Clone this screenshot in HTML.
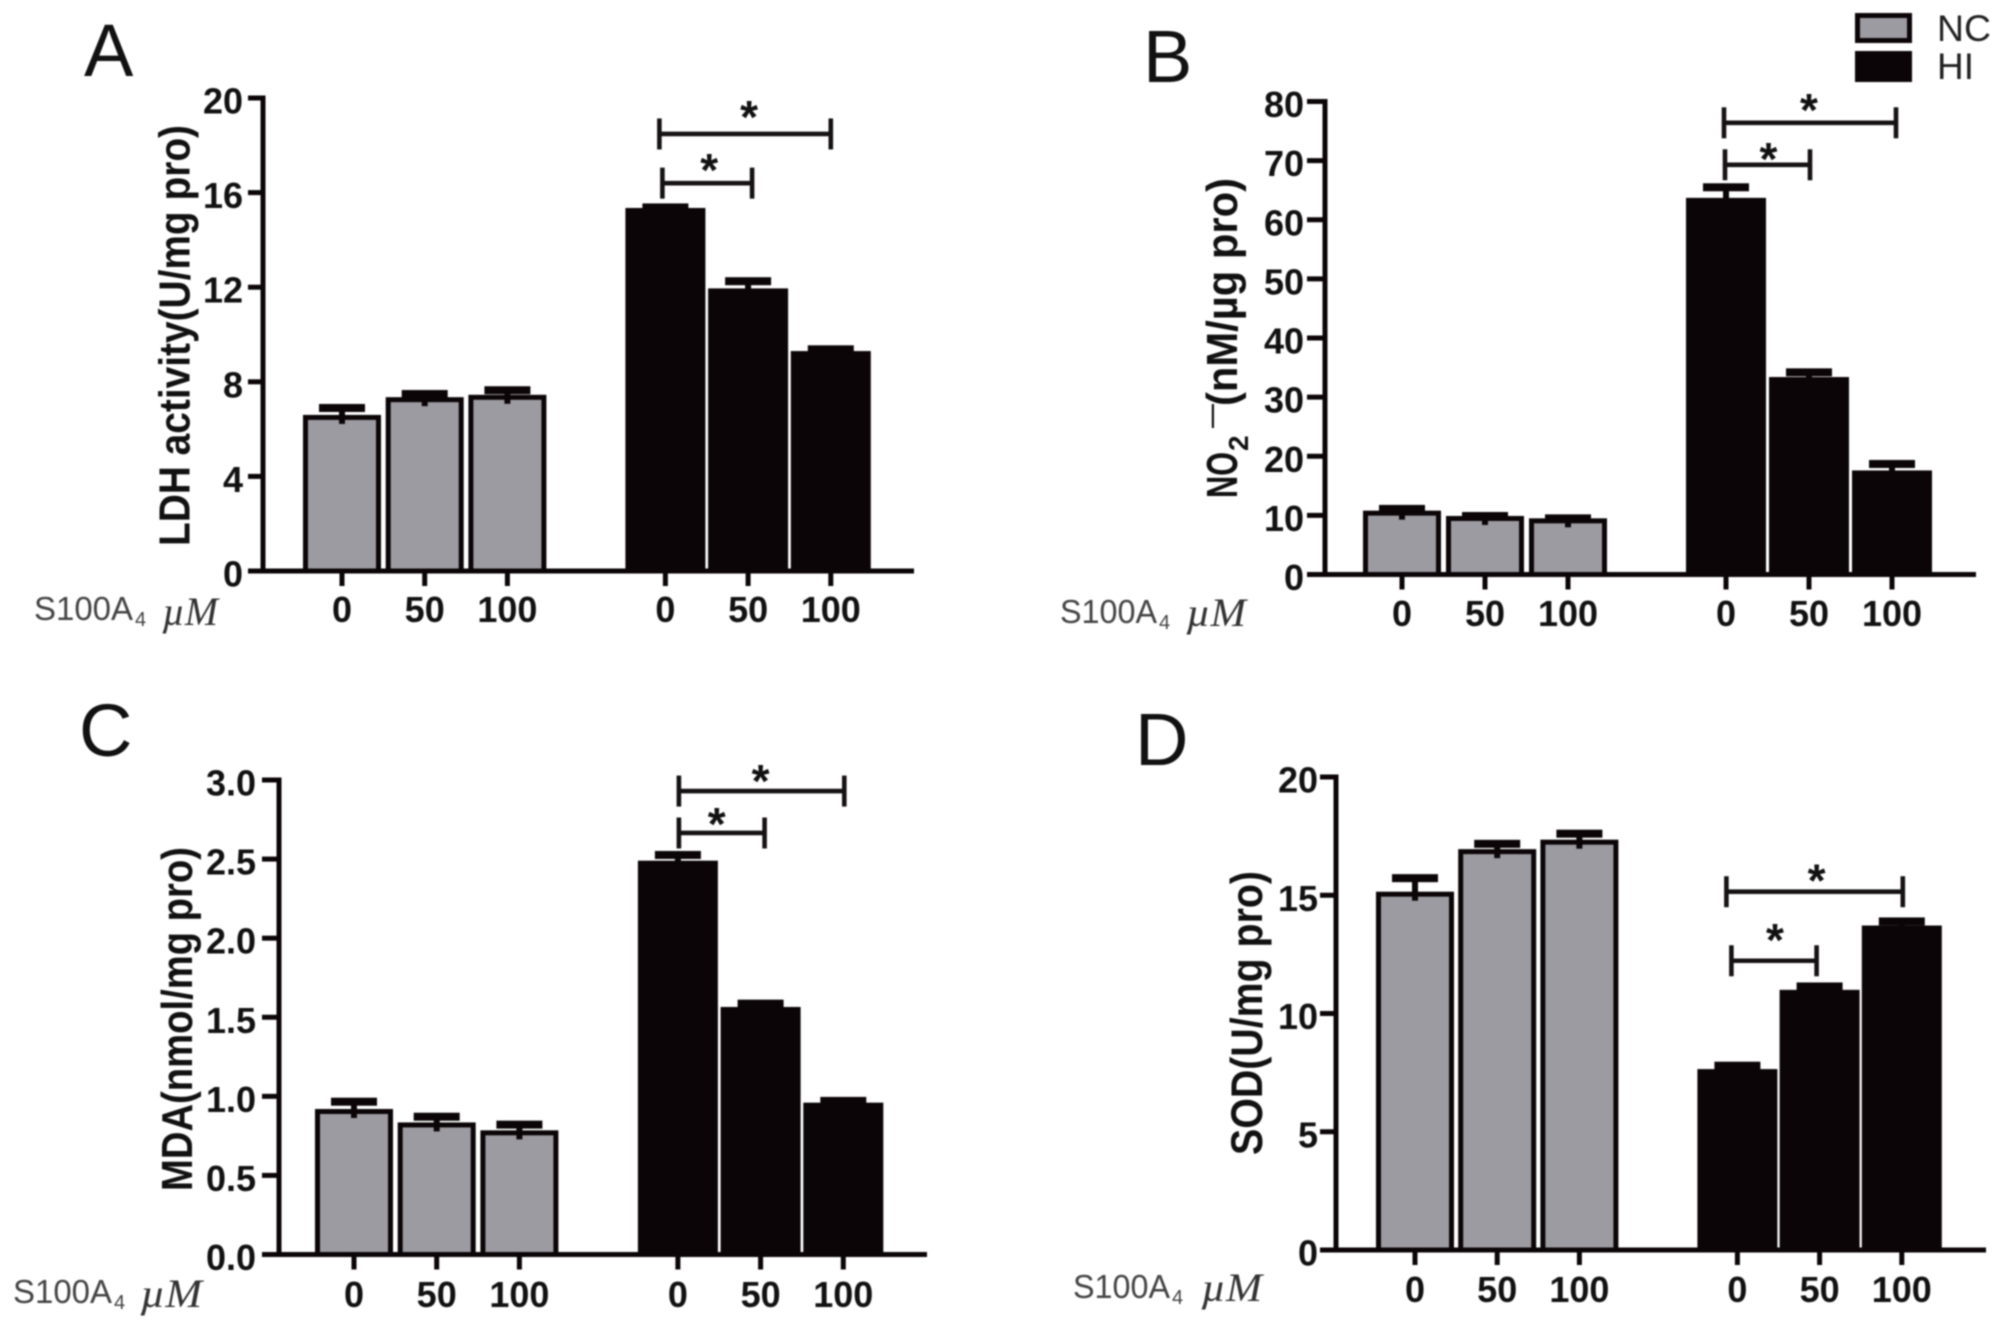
<!DOCTYPE html>
<html lang="en">
<head>
<meta charset="utf-8">
<title>S100A4 effects on LDH, NO2, MDA and SOD</title>
<style>
html,body{margin:0;padding:0;background:#fff;}
body{width:2008px;height:1329px;overflow:hidden;}
svg{display:block;filter:blur(0.7px);}
.tl{font-family:"Liberation Sans",sans-serif;font-weight:700;font-size:36px;fill:#111;}
.yt{font-family:"Liberation Sans",sans-serif;font-weight:700;font-size:39px;fill:#111;}
.pl{font-family:"Liberation Sans",sans-serif;font-size:74px;fill:#111;}
.dose{font-family:"Liberation Sans",sans-serif;font-size:33px;fill:#444;}
.sub{font-family:"Liberation Sans",sans-serif;font-size:20px;fill:#444;}
.um{font-family:"Liberation Serif",serif;font-style:italic;font-size:40px;fill:#333;}
.lg{font-family:"Liberation Sans",sans-serif;font-size:37px;fill:#222;}
.star{font-family:"Liberation Sans",sans-serif;font-weight:700;font-size:46px;fill:#111;}
</style>
</head>
<body>
<svg id="fig" xmlns="http://www.w3.org/2000/svg" width="2008" height="1329" viewBox="0 0 2008 1329">
  <rect x="0" y="0" width="2008" height="1329" fill="#fff"/>

  <text class="pl" x="84" y="76">A</text>
  <text class="pl" x="1143" y="82">B</text>
  <text class="pl" x="79" y="756">C</text>
  <text class="pl" x="1135" y="765">D</text>

  <text class="yt" transform="translate(189.5,546) rotate(-90) scale(1,1.12)" textLength="421" lengthAdjust="spacingAndGlyphs">LDH activity(U/mg pro)</text>
  <g>
    <text class="yt" transform="translate(1237,498) rotate(-90) scale(1,1.12)" textLength="46" lengthAdjust="spacingAndGlyphs">NO</text>
    <text class="sub" style="font-size:28px;fill:#111;font-weight:700" transform="translate(1248,451) rotate(-90)">2</text>
    <text class="yt" style="font-size:22px" transform="translate(1219,428) rotate(-90)" textLength="24" lengthAdjust="spacingAndGlyphs">—</text>
    <text class="yt" transform="translate(1237,406) rotate(-90) scale(1,1.12)" textLength="228" lengthAdjust="spacingAndGlyphs">(nM/µg pro)</text>
  </g>
  <text class="yt" transform="translate(192,1191) rotate(-90) scale(1,1.12)" textLength="344" lengthAdjust="spacingAndGlyphs">MDA(nmol/mg pro)</text>
  <text class="yt" transform="translate(1262,1155) rotate(-90) scale(1,1.15)" textLength="284" lengthAdjust="spacingAndGlyphs">SOD(U/mg pro)</text>

  <g>
    <text class="dose" x="34" y="620" textLength="99" lengthAdjust="spacingAndGlyphs">S100A</text>
    <text class="sub" x="135" y="626">4</text>
    <text class="um" x="162" y="625" textLength="56" lengthAdjust="spacingAndGlyphs">µM</text>
  </g>
  <g>
    <text class="dose" x="1060" y="623" textLength="97" lengthAdjust="spacingAndGlyphs">S100A</text>
    <text class="sub" x="1159" y="629">4</text>
    <text class="um" x="1186" y="626" textLength="60" lengthAdjust="spacingAndGlyphs">µM</text>
  </g>
  <g>
    <text class="dose" x="13" y="1303" textLength="99" lengthAdjust="spacingAndGlyphs">S100A</text>
    <text class="sub" x="114" y="1309">4</text>
    <text class="um" x="140" y="1307" textLength="62" lengthAdjust="spacingAndGlyphs">µM</text>
  </g>
  <g>
    <text class="dose" x="1073" y="1298" textLength="97" lengthAdjust="spacingAndGlyphs">S100A</text>
    <text class="sub" x="1172" y="1304">4</text>
    <text class="um" x="1201" y="1301" textLength="61" lengthAdjust="spacingAndGlyphs">µM</text>
  </g>

  <g>
    <rect x="1857.5" y="15.5" width="52" height="25" fill="#9c9ba1" stroke="#0b0507" stroke-width="5"/>
    <text class="lg" x="1937" y="41" textLength="54" lengthAdjust="spacingAndGlyphs">NC</text>
    <rect x="1855" y="51" width="57" height="31" fill="#0b0507"/>
    <text class="lg" x="1937" y="79">HI</text>
  </g>
</svg>

<script>
var categories = ['0', '50', '100', '0', '50', '100'];

var aTicks = ['0', '4', '8', '12', '16', '20'];
var aMeans = [6.6, 7.35, 7.45, 15.35, 11.95, 9.3];
var aErrors = [0.42, 0.26, 0.32, 0.15, 0.43, 0.2];
var aBracketLevels = [18.48, 16.4];

var bTicks = ['0', '10', '20', '30', '40', '50', '60', '70', '80'];
var bMeans = [10.8, 9.9, 9.5, 63.7, 33.4, 17.6];
var bErrors = [0.8, 0.5, 0.5, 2.3, 1.3, 1.6];
var bBracketLevels = [76.4, 69.3];

var cTicks = ['0.0', '0.5', '1.0', '1.5', '2.0', '2.5', '3.0'];
var cMeans = [0.92, 0.835, 0.785, 2.49, 1.565, 0.96];
var cErrors = [0.065, 0.055, 0.055, 0.055, 0.04, 0.03];
var cBracketLevels = [2.93, 2.665];

var dTicks = ['0', '5', '10', '15', '20'];
var dMeans = [15.15, 16.95, 17.35, 7.65, 11, 13.72];
var dErrors = [0.7, 0.35, 0.38, 0.27, 0.27, 0.3];
var dBracketLevels = [15.15, 12.23];

var NS = 'http://www.w3.org/2000/svg';
var DARK = '#0b0507';
var GRAY = '#9c9ba1';
var root = document.getElementById('fig');

function mk(tag, parent, attrs) {
  var el = document.createElementNS(NS, tag);
  for (var k in attrs) { el.setAttribute(k, attrs[k]); }
  parent.appendChild(el);
  return el;
}

function drawPanel(p, means, errors, ticks, levels) {
  var g = mk('g', root, {});
  
  

  var maxV = Number(ticks[ticks.length - 1]);
  function y(v) { return p.y0 + (p.yTop - p.y0) * v / maxV; }
  function x(i) { return p.x0 + i * p.step + (i >= 3 ? p.gap - p.step : 0); }

  means.forEach(function (m, i) {
    var black = i >= 3;
    var top = y(m);
    var bar;
    if (black) {
      bar = mk('rect', g, { x: x(i) - 40, y: top, width: 80, height: p.y0 - top, fill: DARK });
    } else {
      bar = mk('rect', g, { x: x(i) - 36.5, y: top + 2.5, width: 73, height: p.y0 - top - 2.5, fill: GRAY, stroke: DARK, 'stroke-width': 5 });
    }
    
    

    var errG = mk('g', g, {});
    
    
    var hi = y(m + errors[i]);
    mk('rect', errG, { x: x(i) - 23, y: hi - 1, width: 46, height: 8, fill: DARK });
    mk('rect', errG, { x: x(i) - 3, y: hi, width: 6, height: top - hi + 9, fill: DARK });
  });

  var yAxis = mk('rect', g, { x: p.axisX - 2.5, y: p.yTop - 2.5, width: 5, height: p.y0 - p.yTop + 5, fill: DARK });
  
  

  var xAxis = mk('rect', g, { x: p.left, y: p.y0 - 2.5, width: p.right - p.left, height: 5, fill: DARK });
  
  

  ticks.forEach(function (t) {
    var ty = y(Number(t));
    var tick = mk('rect', g, { x: p.left, y: ty - 2.5, width: p.axisX - p.left, height: 5, fill: DARK });
    
    
    var label = mk('text', g, { 'class': 'tl', x: p.left - p.labelGap, y: ty + 15.5, 'text-anchor': 'end' });
    label.textContent = t;
    
    
  });

  categories.forEach(function (c, i) {
    var tick = mk('rect', g, { x: x(i) - 2.5, y: p.y0, width: 5, height: 15, fill: DARK });
    
    
    var label = mk('text', g, { 'class': 'tl', x: x(i), y: p.xLabelY, 'text-anchor': 'middle' });
    label.textContent = c;
    
    
  });

  levels.forEach(function (lv, k) {
    var br = mk('g', g, {});
    
    
    var x1 = x(3) + p.nudge[k][0];
    var x2 = x(k === 0 ? 5 : 4) + p.nudge[k][1];
    var by = y(lv);
    var style = { stroke: '#161214', 'stroke-width': 4.6, fill: 'none' };
    mk('line', br, Object.assign({ x1: x1, x2: x2, y1: by, y2: by }, style));
    mk('line', br, Object.assign({ x1: x1, x2: x1, y1: by - 15.5, y2: by + 15.5 }, style));
    mk('line', br, Object.assign({ x1: x2, x2: x2, y1: by - 15.5, y2: by + 15.5 }, style));
    var star = mk('text', br, { 'class': 'star', x: (x1 + x2) / 2 + p.starDx[k], y: by - p.starLift[k] + 24, 'text-anchor': 'middle' });
    star.textContent = '*';
    
    
  });
}

drawPanel({ id: 'a', x0: 342, step: 82.7, gap: 158, y0: 571, yTop: 98, axisX: 263, left: 248, right: 914, labelGap: 5, xLabelY: 622, nudge: [[-6, 0], [-3, 4]], starLift: [25, 21], starDx: [4, 2] }, aMeans, aErrors, aTicks, aBracketLevels);
drawPanel({ id: 'b', x0: 1402, step: 83, gap: 158, y0: 574.5, yTop: 101.5, axisX: 1325, left: 1307, right: 1976, labelGap: 3, xLabelY: 626, nudge: [[-2, 4], [-1, 1]], starLift: [21, 14], starDx: [-1, 1] }, bMeans, bErrors, bTicks, bBracketLevels);
drawPanel({ id: 'c', x0: 354, step: 82.7, gap: 158.5, y0: 1254.5, yTop: 780, axisX: 279, left: 262, right: 927, labelGap: 6, xLabelY: 1307, nudge: [[1, 1], [1, 4]], starLift: [18, 17], starDx: [-1, -5] }, cMeans, cErrors, cTicks, cBracketLevels);
drawPanel({ id: 'd', x0: 1415, step: 82.2, gap: 158, y0: 1250, yTop: 777, axisX: 1336, left: 1320, right: 1986, labelGap: 2, xLabelY: 1302, nudge: [[-11, 1], [-6, -3]], starLift: [19, 29], starDx: [2, 1] }, dMeans, dErrors, dTicks, dBracketLevels);
</script>
</body>
</html>
